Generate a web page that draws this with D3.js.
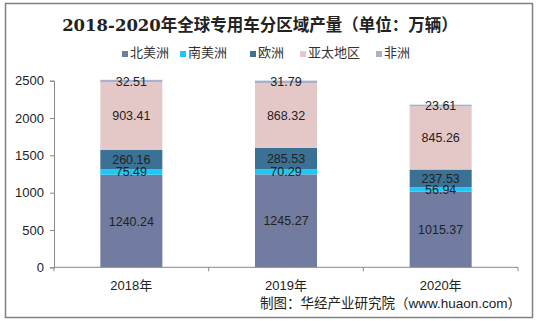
<!DOCTYPE html>
<html><head><meta charset="utf-8">
<script src="https://cdn.jsdelivr.net/npm/d3@7"></script>
<style>
body{margin:0;background:#fff;}
svg{display:block;}
</style></head>
<body><svg id="c" width="536" height="321"></svg>
<script>
const categories = ["2018年","2019年","2020年"];
const seriesNames = ["北美洲","南美洲","欧洲","亚太地区","非洲"];
const northAmerica = [1240.24,1245.27,1015.37];
const southAmerica = [75.49,70.29,56.94];
const europe = [260.16,285.53,237.53];
const asiaPacific = [903.41,868.32,845.26];
const africa = [32.51,31.79,23.61];
const yTicks = [0,500,1000,1500,2000,2500];
const colors = ["#717ca0","#1ec8f5","#3a7194","#e4c8c8","#aab0c8"];
const title = "2018-2020年全球专用车分区域产量（单位：万辆）";
const source = "制图：华经产业研究院（www.huaon.com）";

(function(){
const seriesVals = [northAmerica, southAmerica, europe, asiaPacific, africa];
const rows = categories.map((c,i)=>{const o={cat:c}; seriesNames.forEach((s,j)=>o[s]=seriesVals[j][i]); return o;});
const stacked = d3.stack().keys(seriesNames)(rows);

const svg = d3.select("#c");
const font = "'Liberation Sans', Arial, 'Noto Sans CJK SC', sans-serif";

svg.append("rect").attr("x",5.5).attr("y",3.5).attr("width",527).attr("height",314)
  .attr("fill","#fff").attr("stroke","#808080").attr("stroke-width",1.5);

svg.append("text").attr("x",260).attr("y",31).attr("text-anchor","middle")
  .attr("font-family","'DejaVu Serif','Liberation Serif','Noto Sans CJK SC',serif")
  .attr("font-weight","bold").attr("font-size",16.5).attr("fill","#222").text(title);

const pLeft=54, pRight=518, pTop=80.7, pBottom=267.3;
const x = d3.scaleBand().domain(categories).range([pLeft,pRight]).paddingInner(0.6).paddingOuter(0.3);
const y = d3.scaleLinear().domain([0,2500]).range([pBottom,pTop]);

// legend
const legendX = [122, 180, 250, 300, 376];
const lg = svg.append("g");
seriesNames.forEach((s,i)=>{
  const g = lg.append("g").attr("transform",`translate(${legendX[i]},57)`);
  g.append("rect").attr("x",0).attr("y",-6).attr("width",6).attr("height",6).attr("fill",colors[i]);
  g.append("text").attr("x",8).attr("y",0).attr("font-family",font).attr("font-size",13).attr("fill","#333").text(s);
});

// bars
const bw = 62;
stacked.forEach((layer,i)=>{
  svg.append("g").selectAll("rect").data(layer).join("rect")
    .attr("x",d=>x(d.data.cat)+x.bandwidth()/2-bw/2).attr("width",bw)
    .attr("y",d=>y(d[1])).attr("height",d=>y(d[0])-y(d[1]))
    .attr("fill",colors[i]);
});
stacked.forEach((layer,i)=>{
  svg.append("g").selectAll("text").data(layer).join("text")
    .attr("x",d=>x(d.data.cat)+x.bandwidth()/2)
    .attr("y",d=>(y(d[0])+y(d[1]))/2+4.5)
    .attr("text-anchor","middle").attr("font-family",font).attr("font-size",12.5).attr("fill","#222")
    .text(d=>(d[1]-d[0]).toFixed(2));
});

// y axis
const ya = svg.append("g").attr("transform",`translate(${pLeft},0)`)
  .call(d3.axisLeft(y).tickValues(yTicks).tickFormat(d3.format("d")).tickSize(4).tickPadding(6));
ya.select(".domain").attr("stroke","#888");
ya.selectAll(".tick line").attr("stroke","#888");
ya.selectAll("text").attr("font-family",font).attr("font-size",13).attr("fill","#222");

// x axis
const xa = svg.append("g").attr("transform",`translate(0,${pBottom})`);
xa.append("line").attr("x1",pLeft).attr("x2",pRight).attr("stroke","#888");
const step = (pRight-pLeft)/categories.length;
d3.range(categories.length+1).forEach(i=>{
  xa.append("line").attr("x1",pLeft+i*step).attr("x2",pLeft+i*step).attr("y1",0).attr("y2",4).attr("stroke","#888");
});
xa.selectAll("text.cat").data(categories).join("text").attr("class","cat")
  .attr("x",d=>x(d)+x.bandwidth()/2).attr("y",23)
  .attr("text-anchor","middle").attr("font-family",font).attr("font-size",13).attr("fill","#222").text(d=>d);

svg.append("text").attr("x",521).attr("y",308).attr("text-anchor","end")
  .attr("font-family",font).attr("font-size",13.5).attr("fill","#222").text(source);
})();
</script></body></html>
